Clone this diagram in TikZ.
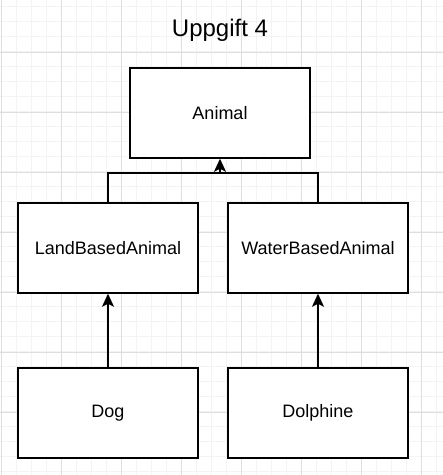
\documentclass[tikz,border=0pt]{standalone}
\usepackage{fontspec}
\setmainfont{Liberation Sans}
\usetikzlibrary{arrows.meta}

\definecolor{cor_minor}{HTML}{F3F3F3}
\definecolor{cor_major}{HTML}{DEDEDE}

\begin{document}
\begin{tikzpicture}[x=1pt, y=-1pt]
        \tikzset{
            caixa/.style={
                draw,
                fill=white,
                line width=1.5pt,
                minimum width=180pt,
                minimum height=90pt,
                font=\fontsize{18}{21}\selectfont
            },
            seta/.style={
                line width=1.5pt,
                -{Stealth[length=13pt, width=12pt, inset=3pt]}
            },
            linha/.style={
                line width=1.5pt
            }
        }
        \useasboundingbox (0,0) rectangle (443,475);
        \fill[white] (0,0) rectangle (443,475);

        \foreach \x in {0,...,29} { %GRADE FINA
            \draw[cor_minor, line width=1pt] ({1.7+15*\x},0) -- ({1.7+15*\x},475);
        }
        \foreach \y in {0,...,31} { %GRADE FINA
            \draw[cor_minor, line width=1pt] (0,{6.7+15*\y}) -- (443,{6.7+15*\y});
        }
        \foreach \x in {0,...,7} { %GRADE GROSSA
            \draw[cor_major, line width=1pt] ({1.7+60*\x},0) -- ({1.7+60*\x},475);
        }
        \foreach \y in {0,...,7} { %GRADE GROSSA
            \draw[cor_major, line width=1pt] (0,{-7.7+60*\y}) -- (443,{-7.7+60*\y});
        }

        \node[font=\fontsize{24}{28}\selectfont] (titulo) at (220,30) {Uppgift 4};

        \node[caixa] (animal) at (220,113) {Animal};
        \node[caixa] (land) at (108,248) {LandBasedAnimal};
        \node[caixa] (water) at (318,248) {WaterBasedAnimal};
        \node[caixa] (dog) at (108,413) {Dog};
        \node[caixa] (dolphine) at (318,413) {Dolphine};

        \coordinate (juncao) at (220,173);

        \draw[linha] (water.north) |- (juncao);
        \draw[seta] (land.north) |- (juncao) -- (animal.south);
        \draw[seta] (dog.north) -- (land.south);
        \draw[seta] (dolphine.north) -- (water.south);

    \end{tikzpicture}
\end{document}
